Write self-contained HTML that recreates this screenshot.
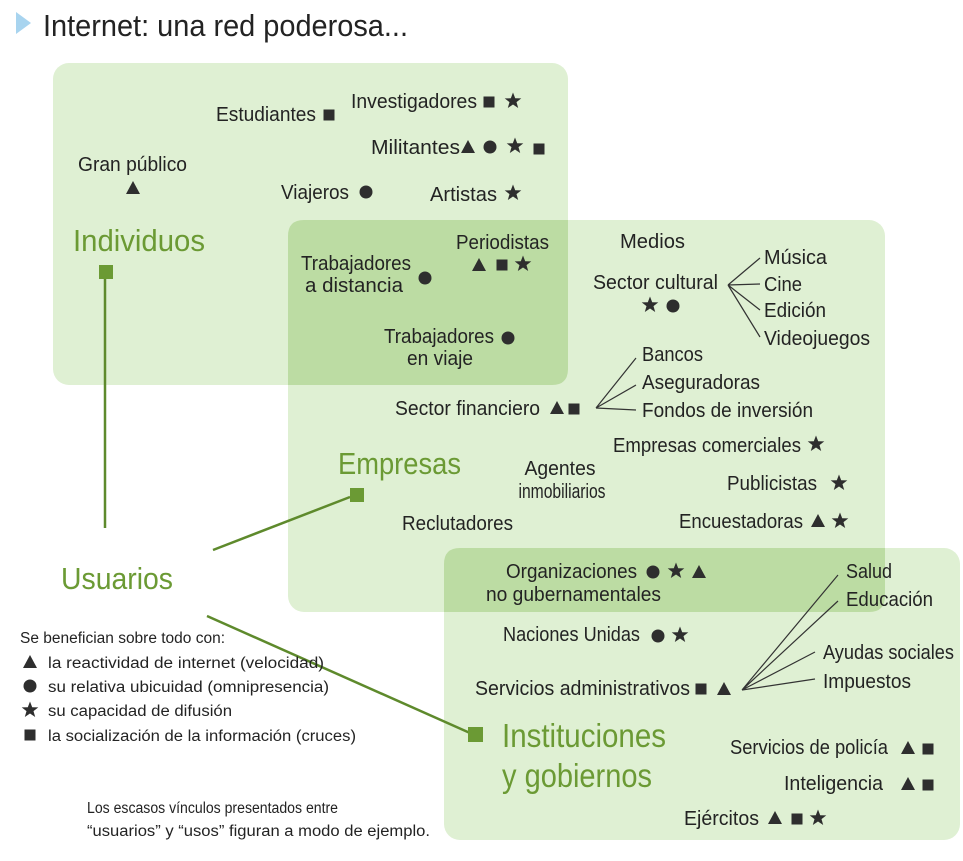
<!DOCTYPE html>
<html><head><meta charset="utf-8"><style>
html,body{margin:0;padding:0;background:#fff;}
svg{display:block;}
text{font-family:"Liberation Sans",sans-serif;fill:#232323;font-size:20px;}
.g{fill:#6b9a34;font-size:31px;}
.s{font-size:15.5px;}
</style></head><body>
<svg width="963" height="861" viewBox="0 0 963 861" xmlns="http://www.w3.org/2000/svg">
<defs>
<path id="t" d="M0,-7 L7,6 L-7,6 Z" fill="#2e2e2e"/>
<circle id="c" r="6.5" fill="#2e2e2e"/>
<rect id="q" x="-5.5" y="-5.5" width="11" height="11" fill="#2e2e2e"/>
<path id="st" d="M0,-8.5 L2.2,-2.7 L8.3,-2.6 L3.5,1.1 L5.2,7 L0,3.5 L-5.2,7 L-3.5,1.1 L-8.3,-2.6 L-2.2,-2.7 Z" fill="#2e2e2e"/>
</defs>
<path d="M16,12 L31,23 L16,34 Z" fill="#a8d4ef"/>
<text x="43" y="36" textLength="365" lengthAdjust="spacingAndGlyphs" style="font-size:31px">Internet: una red poderosa...</text>
<rect x="53" y="63" width="515" height="322" rx="16" fill="#dff0d3"/>
<rect x="288" y="220" width="597" height="392" rx="16" fill="#dff0d3"/>
<rect x="444" y="548" width="516" height="292" rx="16" fill="#dff0d3"/>
<path d="M304,220 H568 V369 Q568,385 552,385 H288 V236 Q288,220 304,220 Z" fill="#bcdca3"/>
<path d="M460,548 H885 V596 Q885,612 869,612 H444 V564 Q444,548 460,548 Z" fill="#bcdca3"/>
<g stroke="#5e8a2c" stroke-width="2.5" fill="none">
<line x1="105" y1="272" x2="105" y2="528"/>
<line x1="213" y1="550" x2="350" y2="497"/>
<line x1="207" y1="616" x2="470" y2="733"/>
</g>
<rect x="99" y="265" width="14" height="14" fill="#6b9a34"/>
<rect x="350" y="488" width="14" height="14" fill="#6b9a34"/>
<rect x="468" y="727" width="15" height="15" fill="#6b9a34"/>
<g stroke="#333" stroke-width="1.2" fill="none">
<path d="M728,285 L760,258 M728,285 L760,284 M728,285 L760,310 M728,285 L760,337"/>
<path d="M596,408 L636,358 M596,408 L636,385 M596,408 L636,410"/>
<path d="M742,690 L838,575 M742,690 L838,601 M742,690 L815,652 M742,690 L815,679"/>
</g>
<text x="216" y="121" textLength="100" lengthAdjust="spacingAndGlyphs">Estudiantes</text><use href="#q" x="329" y="115"/>
<text x="351" y="108" textLength="126" lengthAdjust="spacingAndGlyphs">Investigadores</text><use href="#q" x="489" y="102"/><use href="#st" x="513" y="101"/>
<text x="371" y="154" textLength="89" lengthAdjust="spacingAndGlyphs">Militantes</text><use href="#t" x="468" y="147"/><use href="#c" x="490" y="147"/><use href="#st" x="515" y="146"/><use href="#q" x="539" y="149"/>
<text x="78" y="171" textLength="109" lengthAdjust="spacingAndGlyphs">Gran público</text><use href="#t" x="133" y="188"/>
<text x="281" y="199" textLength="68" lengthAdjust="spacingAndGlyphs">Viajeros</text><use href="#c" x="366" y="192"/>
<text x="430" y="201" textLength="67" lengthAdjust="spacingAndGlyphs">Artistas</text><use href="#st" x="513" y="193"/>
<text class="g" x="73" y="251" textLength="132" lengthAdjust="spacingAndGlyphs">Individuos</text>
<text x="456" y="249" textLength="93" lengthAdjust="spacingAndGlyphs">Periodistas</text><use href="#t" x="479" y="265"/><use href="#q" x="502" y="265"/><use href="#st" x="523" y="264"/>
<text x="356" y="270" text-anchor="middle" textLength="110" lengthAdjust="spacingAndGlyphs">Trabajadores</text>
<text x="354" y="292" text-anchor="middle" textLength="98" lengthAdjust="spacingAndGlyphs">a distancia</text><use href="#c" x="425" y="278"/>
<text x="439" y="343" text-anchor="middle" textLength="110" lengthAdjust="spacingAndGlyphs">Trabajadores</text>
<text x="440" y="365" text-anchor="middle" textLength="66" lengthAdjust="spacingAndGlyphs">en viaje</text><use href="#c" x="508" y="338"/>
<text x="620" y="248" textLength="65" lengthAdjust="spacingAndGlyphs">Medios</text>
<text x="593" y="289" textLength="125" lengthAdjust="spacingAndGlyphs">Sector cultural</text><use href="#st" x="650" y="305"/><use href="#c" x="673" y="306"/>
<text x="764" y="264" textLength="63" lengthAdjust="spacingAndGlyphs">Música</text>
<text x="764" y="291" textLength="38" lengthAdjust="spacingAndGlyphs">Cine</text>
<text x="764" y="317" textLength="62" lengthAdjust="spacingAndGlyphs">Edición</text>
<text x="764" y="345" textLength="106" lengthAdjust="spacingAndGlyphs">Videojuegos</text>
<text x="642" y="361" textLength="61" lengthAdjust="spacingAndGlyphs">Bancos</text>
<text x="642" y="389" textLength="118" lengthAdjust="spacingAndGlyphs">Aseguradoras</text>
<text x="642" y="417" textLength="171" lengthAdjust="spacingAndGlyphs">Fondos de inversión</text>
<text x="395" y="415" textLength="145" lengthAdjust="spacingAndGlyphs">Sector financiero</text><use href="#t" x="557" y="408"/><use href="#q" x="574" y="409"/>
<text x="613" y="452" textLength="188" lengthAdjust="spacingAndGlyphs">Empresas comerciales</text><use href="#st" x="816" y="444"/>
<text class="g" x="338" y="474" textLength="123" lengthAdjust="spacingAndGlyphs">Empresas</text>
<text x="560" y="475" text-anchor="middle" textLength="71" lengthAdjust="spacingAndGlyphs">Agentes</text>
<text x="562" y="498" text-anchor="middle" textLength="87" lengthAdjust="spacingAndGlyphs">inmobiliarios</text>
<text x="727" y="490" textLength="90" lengthAdjust="spacingAndGlyphs">Publicistas</text><use href="#st" x="839" y="483"/>
<text x="679" y="528" textLength="124" lengthAdjust="spacingAndGlyphs">Encuestadoras</text><use href="#t" x="818" y="521"/><use href="#st" x="840" y="521"/>
<text x="402" y="530" textLength="111" lengthAdjust="spacingAndGlyphs">Reclutadores</text>
<text class="g" x="61" y="589" textLength="112" lengthAdjust="spacingAndGlyphs">Usuarios</text>
<text class="s" x="20" y="643" textLength="205" lengthAdjust="spacingAndGlyphs">Se benefician sobre todo con:</text>
<use href="#t" x="30" y="662"/><text class="s" x="48" y="668" textLength="276" lengthAdjust="spacingAndGlyphs">la reactividad de internet (velocidad)</text>
<use href="#c" x="30" y="686"/><text class="s" x="48" y="692" textLength="281" lengthAdjust="spacingAndGlyphs">su relativa ubicuidad (omnipresencia)</text>
<use href="#st" x="30" y="710"/><text class="s" x="48" y="716" textLength="184" lengthAdjust="spacingAndGlyphs">su capacidad de difusión</text>
<use href="#q" x="30" y="735"/><text class="s" x="48" y="741" textLength="308" lengthAdjust="spacingAndGlyphs">la socialización de la información (cruces)</text>
<text class="s" x="87" y="813" textLength="251" lengthAdjust="spacingAndGlyphs">Los escasos vínculos presentados entre</text>
<text class="s" x="87" y="836" textLength="343" lengthAdjust="spacingAndGlyphs">“usuarios” y “usos” figuran a modo de ejemplo.</text>
<text x="506" y="578" textLength="131" lengthAdjust="spacingAndGlyphs">Organizaciones</text><use href="#c" x="653" y="572"/><use href="#st" x="676" y="571"/><use href="#t" x="699" y="572"/>
<text x="486" y="601" textLength="175" lengthAdjust="spacingAndGlyphs">no gubernamentales</text>
<text x="503" y="641" textLength="137" lengthAdjust="spacingAndGlyphs">Naciones Unidas</text><use href="#c" x="658" y="636"/><use href="#st" x="680" y="635"/>
<text x="475" y="695" textLength="215" lengthAdjust="spacingAndGlyphs">Servicios administrativos</text><use href="#q" x="701" y="689"/><use href="#t" x="724" y="689"/>
<text x="846" y="578" textLength="46" lengthAdjust="spacingAndGlyphs">Salud</text>
<text x="846" y="606" textLength="87" lengthAdjust="spacingAndGlyphs">Educación</text>
<text x="823" y="659" textLength="131" lengthAdjust="spacingAndGlyphs">Ayudas sociales</text>
<text x="823" y="688" textLength="88" lengthAdjust="spacingAndGlyphs">Impuestos</text>
<text class="g" x="502" y="747" textLength="164" lengthAdjust="spacingAndGlyphs" style="font-size:33px">Instituciones</text>
<text class="g" x="502" y="787" textLength="150" lengthAdjust="spacingAndGlyphs" style="font-size:33px">y gobiernos</text>
<text x="730" y="754" textLength="158" lengthAdjust="spacingAndGlyphs">Servicios de policía</text><use href="#t" x="908" y="748"/><use href="#q" x="928" y="749"/>
<text x="784" y="790" textLength="99" lengthAdjust="spacingAndGlyphs">Inteligencia</text><use href="#t" x="908" y="784"/><use href="#q" x="928" y="785"/>
<text x="684" y="825" textLength="75" lengthAdjust="spacingAndGlyphs">Ejércitos</text><use href="#t" x="775" y="818"/><use href="#q" x="797" y="819"/><use href="#st" x="818" y="818"/>
</svg>
</body></html>
